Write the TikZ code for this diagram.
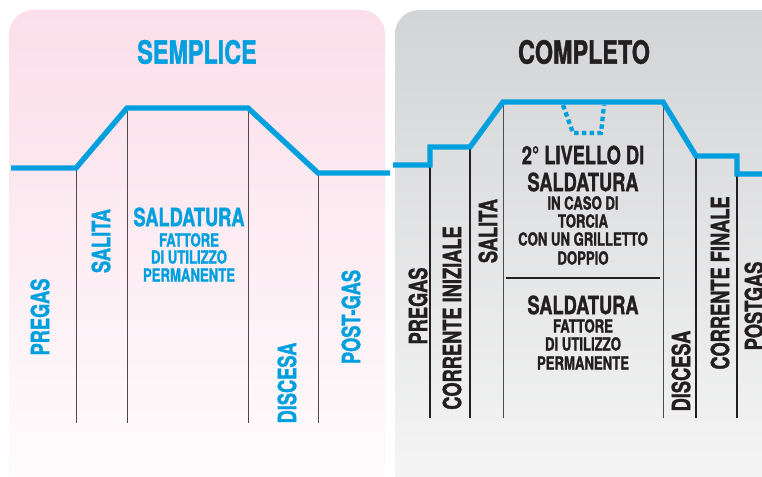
\documentclass[tikz,border=0pt]{standalone}
\usepackage{fontspec}
\setmainfont[FakeStretch=0.73, BoldFeatures={FakeBold=1.3}]{TeX Gyre Heros}
\usetikzlibrary{positioning}

\definecolor{weldblue}{RGB}{0,160,222}
\definecolor{darktext}{RGB}{35,31,32}
\definecolor{pinktop}{RGB}{251,222,233}
\definecolor{graytop}{RGB}{211,212,214}
\definecolor{graybot}{RGB}{248,248,248}

\tikzset{
  title/.style={font=\bfseries\fontsize{24}{26}\selectfont, inner sep=0pt},
  biglabel/.style={font=\bfseries\fontsize{18.75}{20}\selectfont, inner sep=0pt},
  smalllabel/.style={font=\bfseries\fontsize{13.5}{14}\selectfont, inner sep=0pt},
  phase/.style={biglabel, rotate=90},
  wave/.style={weldblue, line width=4pt},
  guide/.style={black!70, line width=0.7pt},
  heavyguide/.style={darktext, line width=1.5pt}
}

\begin{document}
\begin{tikzpicture}[x=0.75pt, y=-0.75pt]
    \useasboundingbox (0,0) rectangle (762,477);
    \clip (0,0) rectangle (762,477);

    % Panels
    \shade[top color=pinktop, bottom color=white, rounded corners=18pt] (9,10) rectangle (385,530);
    \shade[top color=graytop, bottom color=graybot, rounded corners=18pt] (395,10) rectangle (800,530);

    % Titles
    \node[title, text=weldblue] (semplice) at (197,52) {SEMPLICE};
    \node[title, text=darktext] (completo) at (584,52) {COMPLETO};

    % Simple cycle: corner points
    \coordinate (s0) at (11,168);
    \coordinate (s1) at (76,168);
    \coordinate (s2) at (127,108);
    \coordinate (s3) at (248,108);
    \coordinate (s4) at (318,173);
    \coordinate (s5) at (390,173);

    \foreach \p in {s1,s2,s3,s4}
        \draw[guide] (\p) -- (\p |- 0,423);
    \draw[wave] (s0) -- (s1) -- (s2) -- (s3) -- (s4) -- (s5);

    % Full cycle: corner points
    \coordinate (c0) at (393,165);
    \coordinate (c1) at (430,165);
    \coordinate (c2) at (430,147);
    \coordinate (c3) at (470,147);
    \coordinate (c4) at (503,102);
    \coordinate (c5) at (663,102);
    \coordinate (c6) at (696,156);
    \coordinate (c7) at (737,156);
    \coordinate (c8) at (737,174);
    \coordinate (c9) at (770,174);

    \foreach \p in {c1,c3,c6,c8}
        \draw[heavyguide] (\p) -- (\p |- 0,418);
    \foreach \p in {c4,c5}
        \draw[guide] (\p) -- (\p |- 0,418);
    \coordinate (divl) at (506,278);
    \coordinate (divr) at (660,278);
    \draw[heavyguide] (divl) -- (divr);

    \draw[wave] (c0) -- (c1) -- (c2) -- (c3) -- (c4) -- (c5) -- (c6) -- (c7) -- (c8) -- (c9);
    % Second level dip (dotted)
    \coordinate (d0) at (563,105);
    \coordinate (d1) at (573,133);
    \coordinate (d2) at (601,133);
    \coordinate (d3) at (604,105);
    \draw[weldblue, line width=3.2pt, dash pattern=on 3.4pt off 2.4pt] (d0) -- (d1) -- (d2) -- (d3);

    % Labels, simple cycle
    \begin{scope}[text=weldblue]
        \node[phase] (pregasS) at (40,317) {PREGAS};
        \node[phase] (salitaS) at (101,241) {SALITA};
        \node[phase] (discesaS) at (287,383) {DISCESA};
        \node[phase] (postgasS) at (351,317) {POST-GAS};
        \node[biglabel] (saldS) at (189,217) {SALDATURA};
        \node[smalllabel] (fattS) at (189,240) {FATTORE};
        \node[smalllabel] (utilS) at (189,257) {DI UTILIZZO};
        \node[smalllabel] (permS) at (189,275) {PERMANENTE};
    \end{scope}

    % Labels, full cycle
    \begin{scope}[text=darktext]
        \node[phase] (pregasC) at (418,306) {PREGAS};
        \node[phase] (iniz) at (452,318) {CORRENTE INIZIALE};
        \node[phase] (salitaC) at (488,231) {SALITA};
        \node[phase] (discesaC) at (681,371) {DISCESA};
        \node[phase] (fin) at (720,283) {CORRENTE FINALE};
        \node[phase] (postgasC) at (754,306) {POSTGAS};
        \node[biglabel] (livello) at (583,155) {2° LIVELLO DI};
        \node[biglabel] (saldA) at (583,182) {SALDATURA};
        \node[smalllabel] (caso) at (583,203) {IN CASO DI};
        \node[smalllabel] (torcia) at (583,221) {TORCIA};
        \node[smalllabel] (grill) at (583,239) {CON UN GRILLETTO};
        \node[smalllabel] (doppio) at (583,258) {DOPPIO};
        \node[biglabel] (saldB) at (583,305) {SALDATURA};
        \node[smalllabel] (fattC) at (583,326) {FATTORE};
        \node[smalllabel] (utilC) at (583,344) {DI UTILIZZO};
        \node[smalllabel] (permC) at (583,363) {PERMANENTE};
    \end{scope}
\end{tikzpicture}
\end{document}
